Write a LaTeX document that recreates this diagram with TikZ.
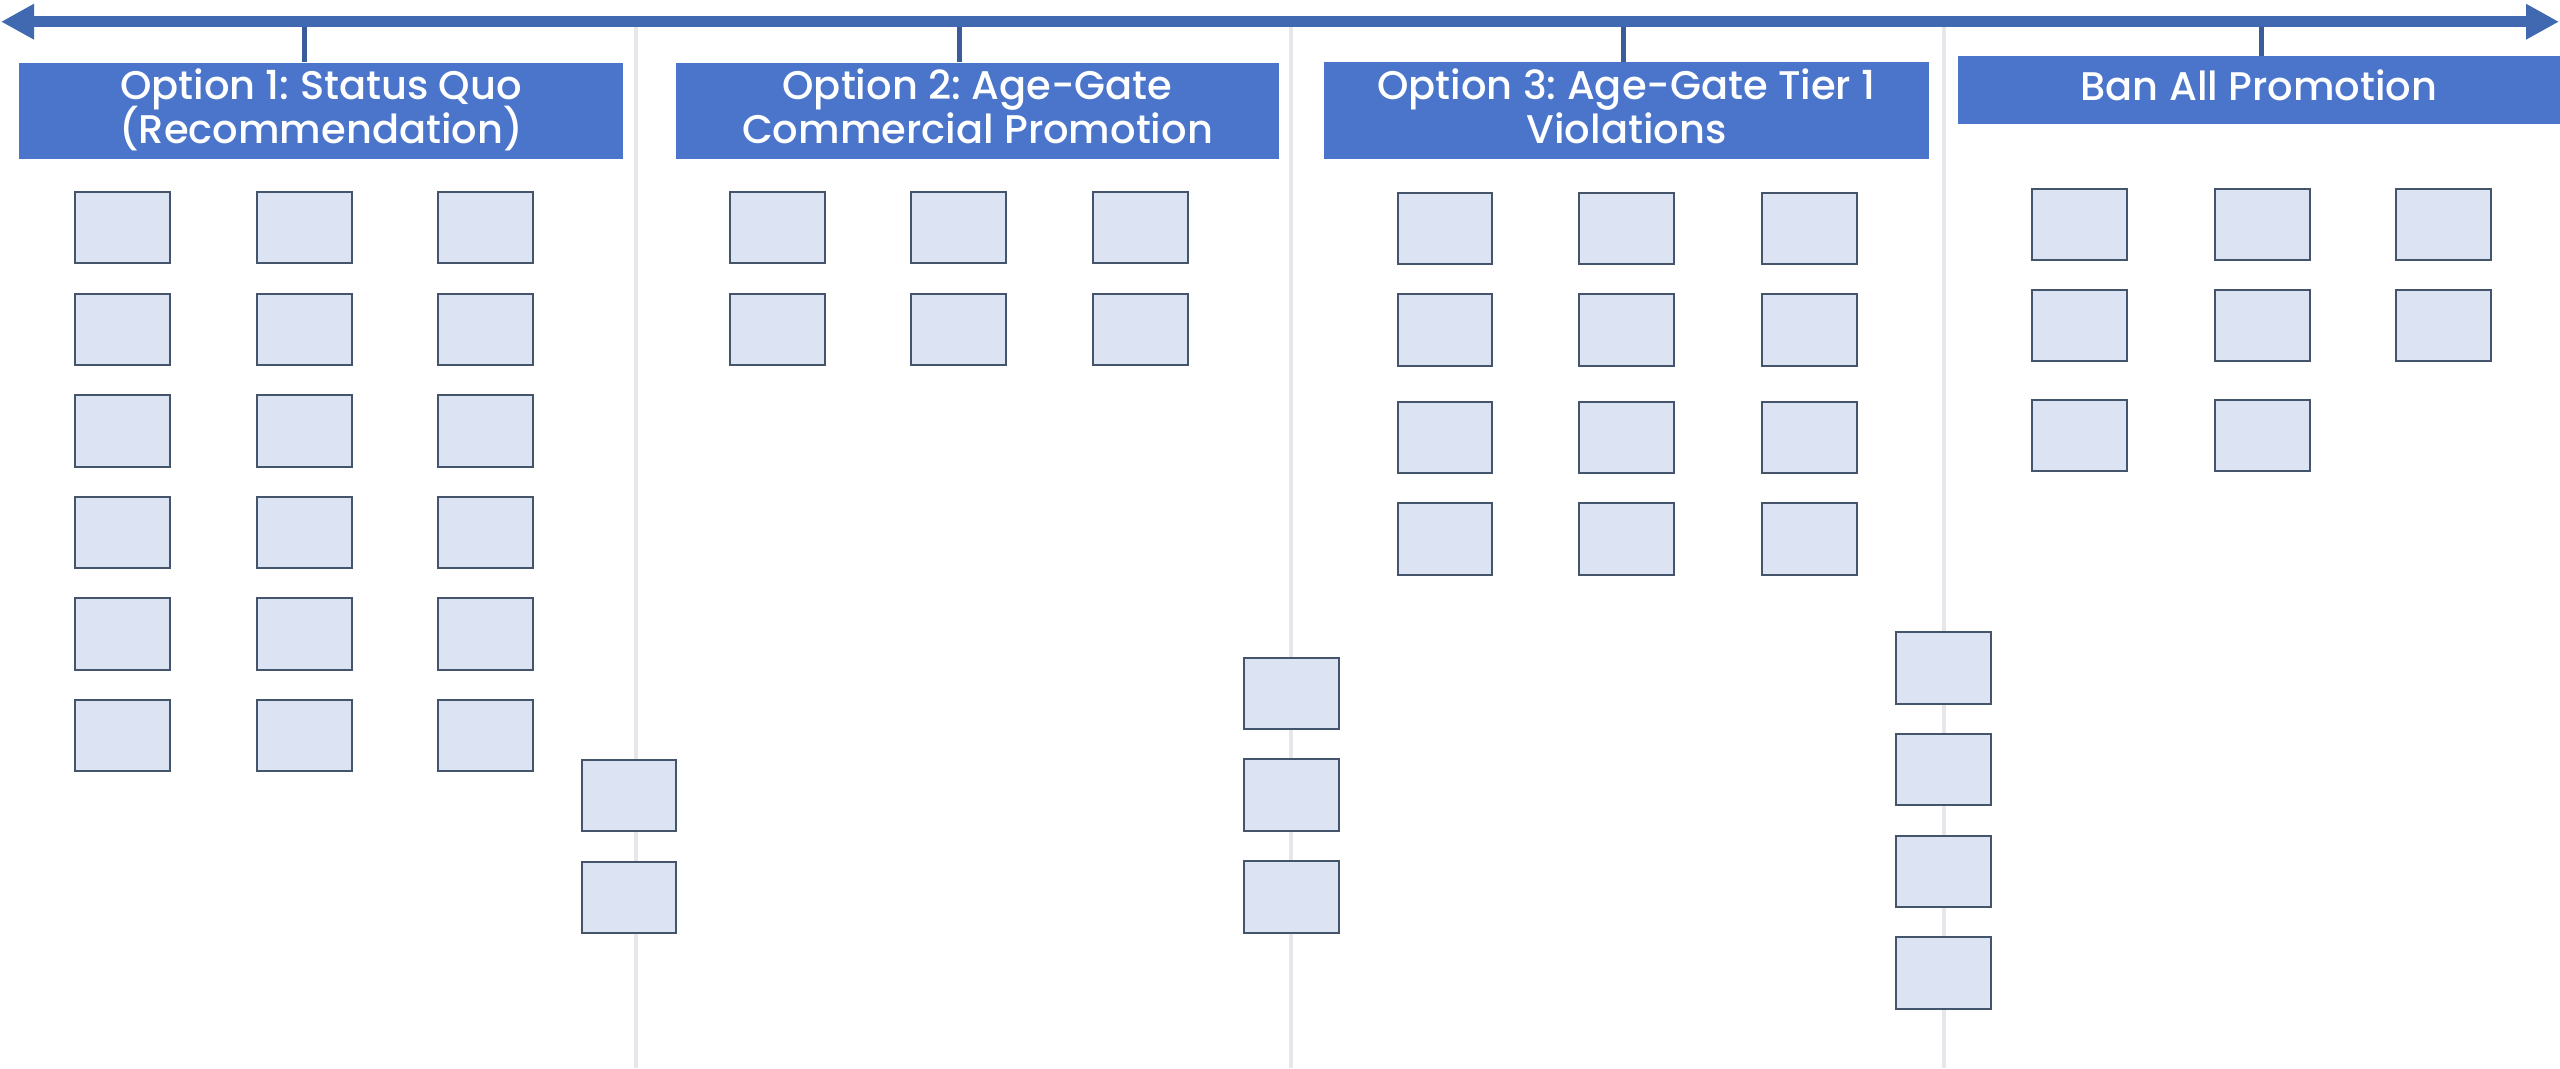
\documentclass[tikz,border=0pt]{standalone}
\usepackage{fontspec}
\setmainfont{Poppins Medium}
\usetikzlibrary{arrows.meta}
\frenchspacing

\definecolor{lineblue}{HTML}{4169B1}
\definecolor{tickblue}{HTML}{3B5C9A}
\definecolor{headblue}{HTML}{4A75CB}
\definecolor{cardfill}{HTML}{DCE3F3}
\definecolor{cardedge}{HTML}{44546A}
\definecolor{divgray}{HTML}{E6E7EA}

\tikzset{
  timeline/.style={line width=3.4pt, draw=lineblue,
    {Triangle[length=9.9pt,width=10pt]}-{Triangle[length=9.9pt,width=10pt]}},
  tickline/.style={line width=1.5pt, draw=tickblue},
  divider/.style={line width=1.2pt, draw=divgray},
  header/.style={fill=headblue, inner sep=0pt},
  headtext/.style={text=white, inner sep=0pt, anchor=base,
    font=\fontsize{12pt}{12.9pt}\selectfont},
  card/.style={draw=cardedge, fill=cardfill, line width=0.6pt, inner sep=0pt,
    minimum width=28.4pt, minimum height=21.4pt},
}

\begin{document}
\begin{tikzpicture}[x=0.3pt, y=-0.3pt]
\useasboundingbox (0,0) rectangle (2560,1068);

% column dividers
\foreach \n/\x in {1/636, 2/1291, 3/1944}{
  \coordinate (d\n top) at (\x,27);
  \coordinate (d\n bot) at (\x,1068);
  \draw[divider] (d\n top) -- (d\n bot);
}

% timeline
\coordinate (aL) at (1,21.7);
\coordinate (aR) at (2559,21.7);

% option headers
\node[header, minimum width=181.2pt, minimum height=29pt] (h1) at (321,111) {};
\node[header, minimum width=180.9pt, minimum height=29pt] (h2) at (977.5,111) {};
\node[header, minimum width=181.5pt, minimum height=29pt] (h3) at (1626.5,110.5) {};
\node[header, minimum width=180.6pt, minimum height=20.3pt] (h4) at (2259,90) {};

% header titles, one node per printed line, set on its baseline
\node[headtext] (h1a) at (321,99.3)    {Option 1: Status Quo};
\node[headtext] (h1b) at (321,143.3)   {(Recommendation)};
\node[headtext] (h2a) at (977.5,99.3)  {Option 2: Age-Gate};
\node[headtext] (h2b) at (977.5,143.3) {Commercial Promotion};
\node[headtext] (h3a) at (1626.5,99)   {Option 3: Age-Gate Tier 1};
\node[headtext] (h3b) at (1626.5,143)  {Violations};
\node[headtext] (h4a) at (2259,100.7)  {Ban All Promotion};

% ticks from the timeline to each header
\foreach \n/\x in {1/304.3, 2/959, 3/1623, 4/2261.7}{
  \coordinate (t\n) at (\x,21.7);
  \draw[tickline] (t\n) -- (t\n |- h\n.north);
}
\draw[timeline] (aL) -- (aR);

% option 1 cards
\foreach \c/\x in {1/122.7, 2/304.3, 3/485.7}{
  \foreach \r/\y in {1/227.7, 2/329.3, 3/430.9, 4/532.5, 5/634.1, 6/735.7}{
    \node[card] (o1-\r-\c) at (\x,\y) {};
  }
}
\node[card] (x1-1) at (629,795.5) {};
\node[card] (x1-2) at (629,897.3) {};

% option 2 cards
\foreach \c/\x in {1/777.3, 2/958.5, 3/1140.5}{
  \foreach \r/\y in {1/227.7, 2/329.3}{
    \node[card] (o2-\r-\c) at (\x,\y) {};
  }
}
\node[card] (x2-1) at (1291.3,693.5) {};
\node[card] (x2-2) at (1291.3,795) {};
\node[card] (x2-3) at (1291.3,897) {};

% option 3 cards
\foreach \c/\x in {1/1445, 2/1626.7, 3/1809.2}{
  \foreach \r/\y in {1/228.3, 2/330, 3/437.3, 4/539}{
    \node[card] (o3-\r-\c) at (\x,\y) {};
  }
}
\node[card] (x3-1) at (1943.3,668) {};
\node[card] (x3-2) at (1943.3,769.7) {};
\node[card] (x3-3) at (1943.3,871.3) {};
\node[card] (x3-4) at (1943.3,973) {};

% ban-all cards
\foreach \c/\x in {1/2079.7, 2/2262.3, 3/2443.8}{
  \foreach \r/\y in {1/224.2, 2/325.8}{
    \node[card] (o4-\r-\c) at (\x,\y) {};
  }
}
\node[card] (o4-3-1) at (2079.7,435.5) {};
\node[card] (o4-3-2) at (2262.3,435.5) {};
\end{tikzpicture}
\end{document}
